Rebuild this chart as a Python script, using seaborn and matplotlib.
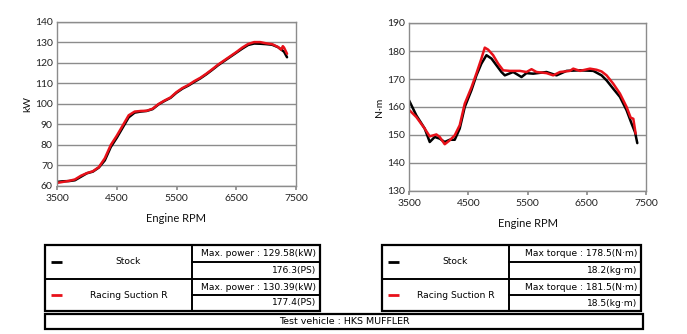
import matplotlib
matplotlib.use("Agg")
import matplotlib.pyplot as plt
import seaborn as sns
import pandas as pd
from matplotlib.lines import Line2D
from matplotlib.patches import Rectangle

# ---------------- data ----------------
rpm_power_stock = [3500, 3600, 3700, 3800, 3900, 4000, 4100, 4200, 4300, 4400, 4500, 4600, 4700, 4800,
                   4900, 5000, 5100, 5200, 5300, 5400, 5500, 5600, 5700, 5800, 5900, 6000, 6100, 6200,
                   6300, 6400, 6500, 6600, 6700, 6800, 6900, 7000, 7100, 7200, 7300, 7350]
power_stock = [62.0, 62.3, 62.4, 62.8, 64.5, 66.2, 67.0, 69.0, 72.5, 79.0, 83.5, 88.5, 93.5, 95.8,
               96.3, 96.6, 97.5, 99.8, 101.5, 103.0, 105.5, 107.5, 109.0, 110.8, 112.5, 114.5, 116.7, 119.0,
               121.0, 123.0, 125.0, 127.0, 128.8, 129.5, 129.4, 129.2, 128.9, 127.7, 125.5, 122.8]

rpm_power_racing = [3500, 3600, 3700, 3800, 3900, 4000, 4100, 4200, 4300, 4400, 4500, 4600, 4700, 4800,
                    4900, 5000, 5100, 5200, 5300, 5400, 5500, 5600, 5700, 5800, 5900, 6000, 6100, 6200,
                    6300, 6400, 6500, 6600, 6700, 6800, 6900, 7000, 7100, 7200, 7250, 7280, 7300, 7350]
power_racing = [61.5, 62.0, 62.5, 63.2, 65.0, 66.3, 67.2, 69.2, 73.5, 80.0, 84.5, 89.5, 94.5, 96.3,
                96.6, 96.7, 97.7, 100.0, 101.7, 103.2, 105.8, 107.8, 109.3, 111.2, 112.8, 114.8, 117.0, 119.3,
                121.3, 123.3, 125.3, 127.5, 129.3, 130.2, 130.2, 129.6, 129.2, 127.8, 126.5, 128.2, 127.5, 124.5]

rpm_torque_stock = [3500, 3624, 3765, 3850, 3934, 4018, 4103, 4187, 4272, 4356, 4441, 4554, 4638, 4722,
                    4807, 4892, 4976, 5060, 5117, 5258, 5399, 5483, 5596, 5821, 5990, 6159, 6385, 6610,
                    6750, 6835, 6948, 7060, 7173, 7258, 7315, 7353]
torque_stock = [162.4, 157.0, 152.3, 147.5, 149.3, 148.7, 147.5, 148.3, 148.3, 152.3, 160.0, 166.0, 171.3, 175.5,
                178.5, 177.3, 174.9, 172.5, 171.3, 172.5, 170.7, 172.1, 171.9, 172.5, 171.3, 172.9, 173.1, 172.9,
                171.3, 169.5, 166.5, 163.6, 158.8, 154.0, 151.0, 147.1]

rpm_torque_racing = [3500, 3624, 3765, 3850, 3962, 4018, 4103, 4187, 4272, 4356, 4441, 4554, 4638, 4722,
                     4779, 4835, 4920, 5004, 5089, 5201, 5370, 5483, 5568, 5652, 5821, 5934, 6047, 6215,
                     6272, 6385, 6554, 6666, 6750, 6835, 6948, 7060, 7173, 7241, 7286, 7325]
torque_racing = [159.0, 156.4, 152.3, 149.5, 150.2, 149.3, 146.7, 148.1, 149.9, 153.5, 161.2, 167.0, 172.0, 177.3,
                 181.2, 180.5, 178.5, 175.5, 173.1, 172.9, 172.9, 172.5, 173.5, 172.5, 172.1, 171.3, 172.5, 172.9,
                 173.7, 172.9, 173.7, 173.3, 172.7, 171.3, 168.3, 164.8, 160.0, 156.2, 155.8, 150.5]

series_names = ["Stock", "Racing Suction R"]
series_colors = ["#000000", "#e8111a"]
x_ticks = [3500, 4500, 5500, 6500, 7500]
power_ticks = [60, 70, 80, 90, 100, 110, 120, 130, 140]
torque_ticks = [130, 140, 150, 160, 170, 180, 190]
power_table = [["Max. power : 129.58(kW)", "176.3(PS)"], ["Max. power : 130.39(kW)", "177.4(PS)"]]
torque_table = [["Max torque : 178.5(N\u00b7m)", "18.2(kg\u00b7m)"], ["Max torque : 181.5(N\u00b7m)", "18.5(kg\u00b7m)"]]
footer = "Test vehicle : HKS MUFFLER"

# ---------------- figure ----------------
sns.set_theme(style="white")
plt.rcParams["font.family"] = ["Lato", "DejaVu Sans"]

W, H = 687, 334
fig = plt.figure(figsize=(W / 100, H / 100), dpi=100)


def ax_px(x0, y0, x1, y1):
    return fig.add_axes([x0 / W, 1 - y1 / H, (x1 - x0) / W, (y1 - y0) / H])


df_p = pd.concat([
    pd.DataFrame({"rpm": rpm_power_stock, "val": power_stock, "s": series_names[0]}),
    pd.DataFrame({"rpm": rpm_power_racing, "val": power_racing, "s": series_names[1]}),
])
df_t = pd.concat([
    pd.DataFrame({"rpm": rpm_torque_stock, "val": torque_stock, "s": series_names[0]}),
    pd.DataFrame({"rpm": rpm_torque_racing, "val": torque_racing, "s": series_names[1]}),
])

grid_c = "#8c8c8c"


def style_axis(ax, yticks, ylabel):
    ax.set_xlim(3500, 7500)
    ax.set_ylim(yticks[0], yticks[-1])
    ax.set_xticks(x_ticks)
    ax.set_yticks(yticks)
    ax.yaxis.grid(True, color=grid_c, linewidth=1.0)
    ax.set_axisbelow(True)
    for sp in ax.spines.values():
        sp.set_color(grid_c)
        sp.set_linewidth(1.0)
    ax.tick_params(axis="x", which="major", direction="out", length=3, color=grid_c,
                   labelsize=7.5, pad=3, bottom=True)
    ax.tick_params(axis="y", which="major", length=0, labelsize=7.5, pad=3)
    for lab in ax.get_xticklabels() + ax.get_yticklabels():
        lab.set_color("#222222")
    ax.set_xlabel("Engine RPM", fontsize=8, color="#111111", labelpad=7)
    ax.set_ylabel(ylabel, fontsize=7.5, color="#111111", labelpad=2)
    leg = ax.get_legend()
    if leg:
        leg.remove()


ax1 = ax_px(57, 22, 296, 186)
sns.lineplot(data=df_p, x="rpm", y="val", hue="s", palette=series_colors, hue_order=series_names,
             linewidth=1.8, ax=ax1, sort=False, estimator=None)
style_axis(ax1, power_ticks, "kW")

ax2 = ax_px(409, 23, 646, 191)
sns.lineplot(data=df_t, x="rpm", y="val", hue="s", palette=series_colors, hue_order=series_names,
             linewidth=1.8, ax=ax2, sort=False, estimator=None)
style_axis(ax2, torque_ticks, "N\u00b7m")

# ---------------- tables (overlay in pixel coords) ----------------
ov = fig.add_axes([0, 0, 1, 1])
ov.set_xlim(0, W)
ov.set_ylim(H, 0)
ov.axis("off")

lw_out = 1.6
lw_in = 1.4
tfont = ["DejaVu Sans"]


def draw_table(x0, xdiv, x1, rows, labels):
    y0, ymid, y1 = 245, 279, 311
    ov.add_patch(Rectangle((x0, y0), x1 - x0, y1 - y0, fill=False, edgecolor="black", linewidth=lw_out))
    ov.plot([x0, x1], [ymid, ymid], color="black", linewidth=lw_in)
    ov.plot([xdiv, xdiv], [y0, y1], color="black", linewidth=lw_in)
    subs = [(y0 + ymid) / 2, (ymid + y1) / 2]
    ov.plot([xdiv, x1], [subs[0], subs[0]], color="black", linewidth=lw_in)
    ov.plot([xdiv, x1], [subs[1], subs[1]], color="black", linewidth=lw_in)
    bands = [(y0, subs[0], ymid), (ymid, subs[1], y1)]
    for i, (ya, yb, yc) in enumerate(bands):
        yc_row = (ya + yc) / 2
        ov.plot([x0 + 6, x0 + 17], [yc_row, yc_row], color=series_colors[i], linewidth=2.0,
                solid_capstyle="butt")
        ov.text((x0 + 20 + xdiv) / 2, yc_row, labels[i], ha="center", va="center",
                fontsize=6.6, family=tfont, color="black")
        ov.text(x1 - 4, (ya + yb) / 2, rows[i][0], ha="right", va="center",
                fontsize=6.6, family=tfont, color="black")
        ov.text(x1 - 4, (yb + yc) / 2, rows[i][1], ha="right", va="center",
                fontsize=6.6, family=tfont, color="black")


draw_table(45, 192, 320, power_table, series_names)
draw_table(382, 509, 641, torque_table, series_names)

ov.add_patch(Rectangle((45, 314), 643 - 45, 15, fill=False, edgecolor="black", linewidth=lw_out))
ov.text((45 + 643) / 2, 321.5, footer, ha="center", va="center", fontsize=6.8, family=tfont,
        color="black")

fig.savefig("out.png", dpi=100, facecolor="white")
